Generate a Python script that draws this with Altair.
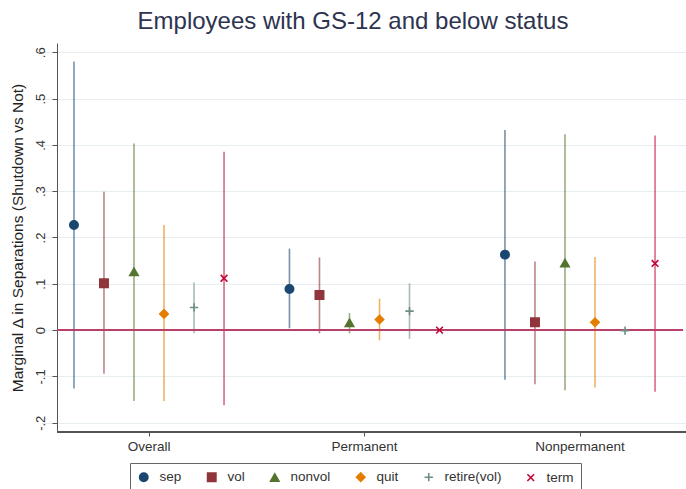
import altair as alt
import pandas as pd

# Categories and series
groups = ["Overall", "Permanent", "Nonpermanent"]
series = ["sep", "vol", "nonvol", "quit", "retire(vol)", "term"]

# Point estimates and 95% CI bounds, one list per group (ordered as `series`)
overall_est = [0.227, 0.101, 0.126, 0.035, 0.049, 0.112]
overall_lo = [-0.126, -0.094, -0.153, -0.153, -0.007, -0.162]
overall_hi = [0.580, 0.299, 0.403, 0.227, 0.103, 0.385]

perm_est = [0.089, 0.076, 0.016, 0.023, 0.041, 0.000]
perm_lo = [0.004, -0.007, -0.007, -0.022, -0.019, -0.002]
perm_hi = [0.176, 0.157, 0.037, 0.068, 0.101, 0.002]

nonperm_est = [0.163, 0.017, 0.145, 0.017, -0.001, 0.144]
nonperm_lo = [-0.107, -0.117, -0.130, -0.124, -0.003, -0.133]
nonperm_hi = [0.432, 0.148, 0.423, 0.158, 0.001, 0.420]

rows = []
for g, est, lo, hi in zip(
    groups,
    [overall_est, perm_est, nonperm_est],
    [overall_lo, perm_lo, nonperm_lo],
    [overall_hi, perm_hi, nonperm_hi],
):
    for s, e, l, h in zip(series, est, lo, hi):
        rows.append({"group": g, "series": s, "ci_series": s,
                     "est": e, "lo": l, "hi": h})
df = pd.DataFrame(rows)

colors = ["#1a476f", "#90353b", "#55752f", "#e37e00", "#6e8e84", "#c10534"]
fills = ["#1a476f", "#90353b", "#55752f", "#e37e00", "transparent", "transparent"]
shapes = [
    "circle",
    "square",
    "triangle-up",
    "diamond",
    "M-1,0L1,0M0,-1L0,1",
    "M-0.8,-0.8L0.8,0.8M-0.8,0.8L0.8,-0.8",
]

FONT = "Liberation Sans"
W, H = 626, 389

x_enc = alt.X(
    "group:N",
    sort=groups,
    scale=alt.Scale(range=[-15.75, 630.75], paddingInner=0, paddingOuter=0),
    axis=alt.Axis(
        title=None, labelAngle=0, domain=False, tickSize=4, tickColor="#555",
        labelFontSize=13.5, labelColor="#333", labelPadding=3, labelFont=FONT,
    ),
)
xoff = alt.XOffset(
    "series:N", sort=series, scale=alt.Scale(paddingInner=0, paddingOuter=0.59)
)
y_scale = alt.Scale(domain=[-0.22, 0.62], nice=False, zero=False)
y_axis = alt.Axis(
    title="Marginal \u0394 in Separations (Shutdown vs Not)",
    values=[-0.2, -0.1, 0, 0.1, 0.2, 0.3, 0.4, 0.5, 0.6],
    labelExpr="datum.value == 0 ? '0' : replace(replace(format(datum.value, '.1f'), '0.', '.'), '\u2212', '-')",
    labelAngle=270, labelAlign="center", labelBaseline="bottom",
    labelFontSize=13, labelColor="#333", labelFont=FONT, labelPadding=5,
    tickSize=5, tickColor="#555", domainColor="#555",
    grid=True, gridColor="#e6eef1", gridWidth=1,
    titleFont=FONT, titleFontSize=15.5, titleFontWeight="normal",
    titleColor="#222", titlePadding=9,
)

base = alt.Chart(df)

# Confidence-interval whiskers; their colour scale is keyed on its own field
# (data-driven domain) so it does not merge with the point legend.
ci = base.mark_rule(strokeWidth=1.6, opacity=0.6).encode(
    x=x_enc,
    xOffset=xoff,
    y=alt.Y("lo:Q", scale=y_scale, axis=y_axis),
    y2="hi:Q",
    color=alt.Color("ci_series:N", sort=series,
                    scale=alt.Scale(range=colors), legend=None),
)

zero = base.mark_rule(color="#b8416a", strokeWidth=1.5).encode(y=alt.datum(0))

bottom_axis = base.mark_rule(color="#555", strokeWidth=1).encode(
    x=alt.value(0), x2=alt.value(W + 3), y=alt.value(H)
)

legend = alt.Legend(
    title=None, orient="none", legendX=73, legendY=420, direction="horizontal",
)

pts = base.mark_point(filled=False, size=70, strokeWidth=1.6, opacity=1).encode(
    x=x_enc,
    xOffset=xoff,
    y=alt.Y("est:Q", scale=y_scale),
    stroke=alt.Stroke("series:N", sort=series,
                      scale=alt.Scale(domain=series, range=colors), legend=legend),
    fill=alt.Fill("series:N", sort=series,
                  scale=alt.Scale(domain=series, range=fills), legend=legend),
    shape=alt.Shape("series:N", sort=series,
                    scale=alt.Scale(domain=series, range=shapes), legend=legend),
)

chart = (
    alt.layer(ci, zero, bottom_axis, pts)
    .properties(
        width=W,
        height=H,
        autosize=alt.AutoSizeParams(type="none"),
        padding={"left": 57, "top": 43, "right": 3, "bottom": 57},
        background="white",
        title=alt.TitleParams(
            "Employees with GS-12 and below status",
            font=FONT, fontSize=24, fontWeight="normal", color="#2e3350",
            anchor="middle", offset=9, dx=-17,
        ),
    )
    .configure_view(stroke=None)
    .configure_legend(
        strokeColor="#666", padding=7, labelFont=FONT,
        labelFontSize=13.5, labelColor="#333", symbolSize=70,
        symbolStrokeWidth=1.6, columnPadding=22, labelOffset=9,
    )
)

chart.save("out.html", embed_options={"renderer": "svg", "actions": False})
